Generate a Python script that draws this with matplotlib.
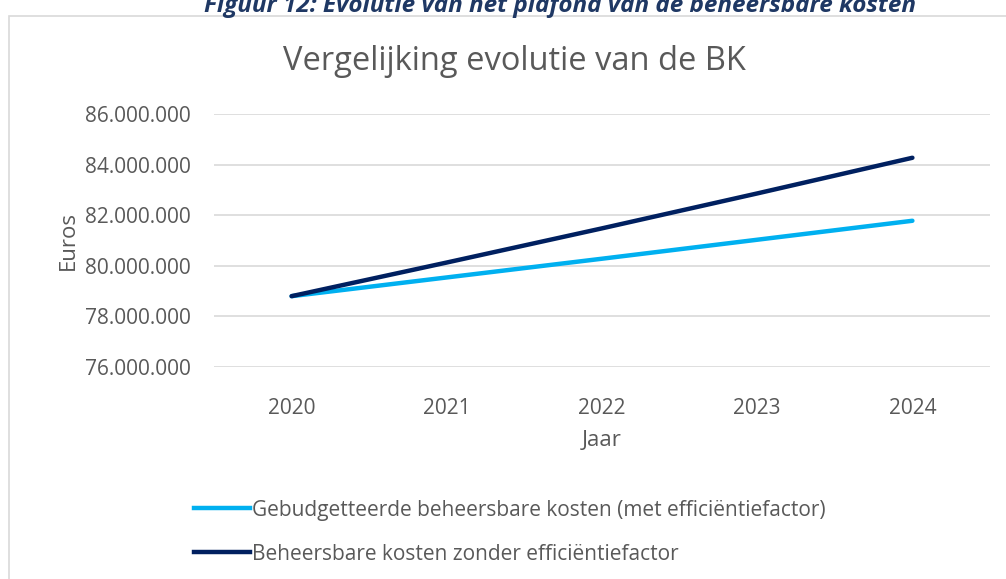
import matplotlib
matplotlib.use("Agg")
import matplotlib.pyplot as plt
from matplotlib.lines import Line2D
from matplotlib.patches import Rectangle

years = ["2020", "2021", "2022", "2023", "2024"]
met_eff = [78.8e6, 79.54e6, 80.28e6, 81.03e6, 81.78e6]
zonder_eff = [78.8e6, 80.13e6, 81.48e6, 82.86e6, 84.27e6]
yticks = [76e6, 78e6, 80e6, 82e6, 84e6, 86e6]
series_names = ["Gebudgetteerde beheersbare kosten (met efficiëntiefactor)",
                "Beheersbare kosten zonder efficiëntiefactor"]

plt.rcParams['font.family'] = ['Open Sans', 'DejaVu Sans']
W, H = 1006, 579
fig = plt.figure(figsize=(W/100, H/100), dpi=100)

# chart border
fig.patches.append(Rectangle((9/W, -0.1), 1.2, (H-16)/H + 0.1, transform=fig.transFigure,
                             fill=False, edgecolor="#D9D9D9", linewidth=1.2))

ax = fig.add_axes([214/W, 1-367/H, (990-214)/W, (367-114)/H])
x = list(range(len(years)))
light = "#00B0F0"
dark = "#002060"
ax.plot(x, met_eff, color=light, lw=3.2, solid_capstyle="round")
ax.plot(x, zonder_eff, color=dark, lw=3.2, solid_capstyle="round")

ax.set_xlim(-0.5, 4.5)
ax.set_ylim(76e6, 86e6)
ax.set_yticks(yticks)
ax.set_yticklabels([f"{int(v):,}".replace(",", ".") for v in yticks])
ax.set_xticks(x)
ax.set_xticklabels(years)
ax.tick_params(length=0, labelsize=15, labelcolor="#595959")
ax.tick_params(axis="y", pad=17)
ax.tick_params(axis="x", pad=22)
ax.grid(axis="y", color="#D9D9D9", lw=1.2)
ax.set_axisbelow(True)
for s in ax.spines.values():
    s.set_visible(False)

ax.set_ylabel("Euros", fontsize=16, color="#595959", labelpad=4)
ax.set_xlabel("Jaar", fontsize=16, color="#595959", labelpad=8)

fig.text(514/W, 1-61/H, "Vergelijking evolutie van de BK", fontsize=23.5, color="#595959",
         ha="center", va="center")
fig.text(560/W, 1-12/H, "Figuur 12: Evolutie van het plafond van de beheersbare kosten",
         fontsize=17.5, color="#1F3864", ha="center", va="baseline",
         fontweight="bold", fontstyle="italic")

handles = [Line2D([0], [0], color=light, lw=3.2), Line2D([0], [0], color=dark, lw=3.2)]
leg = fig.legend(handles, series_names, loc="upper left", bbox_to_anchor=(175/W, 1-481/H),
                 frameon=False, fontsize=15, labelcolor="#595959", handlelength=2.7,
                 handletextpad=0.12, labelspacing=1.1)

fig.savefig("out.png", dpi=100)
